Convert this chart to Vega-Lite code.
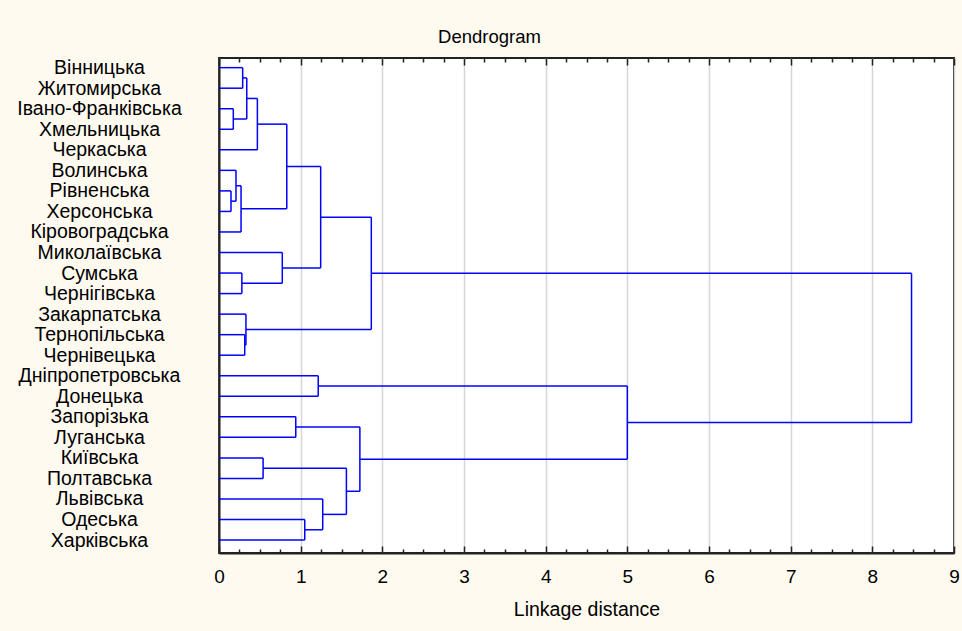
{
  "$schema": "https://vega.github.io/schema/vega-lite/v6.json",
  "width": 735,
  "height": 495,
  "autosize": {"type": "none"},
  "padding": {"left": 219, "top": 58, "right": 8, "bottom": 78},
  "background": "#fffaf0",
  "config": {
    "view": {"stroke": "#222222", "strokeWidth": 2, "fill": "white"},
    "font": "Liberation Sans"
  },
  "title": {
    "text": "Dendrogram",
    "fontSize": 18.5,
    "fontWeight": "normal",
    "font": "Liberation Sans",
    "color": "black",
    "anchor": "middle",
    "dx": -97,
    "offset": 11
  },
  "datasets": {
    "seg": [
      {"x": 0, "x2": 0.29, "y": 0, "y2": 0},
      {"x": 0, "x2": 0.29, "y": 1, "y2": 1},
      {"x": 0.29, "x2": 0.29, "y": 0, "y2": 1},
      {"x": 0, "x2": 0.175, "y": 2, "y2": 2},
      {"x": 0, "x2": 0.175, "y": 3, "y2": 3},
      {"x": 0.175, "x2": 0.175, "y": 2, "y2": 3},
      {"x": 0.29, "x2": 0.34, "y": 0.5, "y2": 0.5},
      {"x": 0.175, "x2": 0.34, "y": 2.5, "y2": 2.5},
      {"x": 0.34, "x2": 0.34, "y": 0.5, "y2": 2.5},
      {"x": 0.34, "x2": 0.47, "y": 1.5, "y2": 1.5},
      {"x": 0, "x2": 0.47, "y": 4, "y2": 4},
      {"x": 0.47, "x2": 0.47, "y": 1.5, "y2": 4},
      {"x": 0, "x2": 0.147, "y": 6, "y2": 6},
      {"x": 0, "x2": 0.147, "y": 7, "y2": 7},
      {"x": 0.147, "x2": 0.147, "y": 6, "y2": 7},
      {"x": 0, "x2": 0.208, "y": 5, "y2": 5},
      {"x": 0.147, "x2": 0.208, "y": 6.5, "y2": 6.5},
      {"x": 0.208, "x2": 0.208, "y": 5, "y2": 6.5},
      {"x": 0.208, "x2": 0.27, "y": 5.75, "y2": 5.75},
      {"x": 0, "x2": 0.27, "y": 8, "y2": 8},
      {"x": 0.27, "x2": 0.27, "y": 5.75, "y2": 8},
      {"x": 0.47, "x2": 0.83, "y": 2.75, "y2": 2.75},
      {"x": 0.27, "x2": 0.83, "y": 6.875, "y2": 6.875},
      {"x": 0.83, "x2": 0.83, "y": 2.75, "y2": 6.875},
      {"x": 0, "x2": 0.28, "y": 10, "y2": 10},
      {"x": 0, "x2": 0.28, "y": 11, "y2": 11},
      {"x": 0.28, "x2": 0.28, "y": 10, "y2": 11},
      {"x": 0, "x2": 0.775, "y": 9, "y2": 9},
      {"x": 0.28, "x2": 0.775, "y": 10.5, "y2": 10.5},
      {"x": 0.775, "x2": 0.775, "y": 9, "y2": 10.5},
      {"x": 0.83, "x2": 1.245, "y": 4.8125, "y2": 4.8125},
      {"x": 0.775, "x2": 1.245, "y": 9.75, "y2": 9.75},
      {"x": 1.245, "x2": 1.245, "y": 4.8125, "y2": 9.75},
      {"x": 0, "x2": 0.315, "y": 13, "y2": 13},
      {"x": 0, "x2": 0.315, "y": 14, "y2": 14},
      {"x": 0.315, "x2": 0.315, "y": 13, "y2": 14},
      {"x": 0, "x2": 0.33, "y": 12, "y2": 12},
      {"x": 0.315, "x2": 0.33, "y": 13.5, "y2": 13.5},
      {"x": 0.33, "x2": 0.33, "y": 12, "y2": 13.5},
      {"x": 1.245, "x2": 1.865, "y": 7.28125, "y2": 7.28125},
      {"x": 0.33, "x2": 1.865, "y": 12.75, "y2": 12.75},
      {"x": 1.865, "x2": 1.865, "y": 7.28125, "y2": 12.75},
      {"x": 0, "x2": 1.215, "y": 15, "y2": 15},
      {"x": 0, "x2": 1.215, "y": 16, "y2": 16},
      {"x": 1.215, "x2": 1.215, "y": 15, "y2": 16},
      {"x": 0, "x2": 0.94, "y": 17, "y2": 17},
      {"x": 0, "x2": 0.94, "y": 18, "y2": 18},
      {"x": 0.94, "x2": 0.94, "y": 17, "y2": 18},
      {"x": 0, "x2": 0.54, "y": 19, "y2": 19},
      {"x": 0, "x2": 0.54, "y": 20, "y2": 20},
      {"x": 0.54, "x2": 0.54, "y": 19, "y2": 20},
      {"x": 0, "x2": 1.05, "y": 22, "y2": 22},
      {"x": 0, "x2": 1.05, "y": 23, "y2": 23},
      {"x": 1.05, "x2": 1.05, "y": 22, "y2": 23},
      {"x": 0, "x2": 1.27, "y": 21, "y2": 21},
      {"x": 1.05, "x2": 1.27, "y": 22.5, "y2": 22.5},
      {"x": 1.27, "x2": 1.27, "y": 21, "y2": 22.5},
      {"x": 0.54, "x2": 1.56, "y": 19.5, "y2": 19.5},
      {"x": 1.27, "x2": 1.56, "y": 21.75, "y2": 21.75},
      {"x": 1.56, "x2": 1.56, "y": 19.5, "y2": 21.75},
      {"x": 0.94, "x2": 1.725, "y": 17.5, "y2": 17.5},
      {"x": 1.56, "x2": 1.725, "y": 20.625, "y2": 20.625},
      {"x": 1.725, "x2": 1.725, "y": 17.5, "y2": 20.625},
      {"x": 1.215, "x2": 5.0, "y": 15.5, "y2": 15.5},
      {"x": 1.725, "x2": 5.0, "y": 19.0625, "y2": 19.0625},
      {"x": 5.0, "x2": 5.0, "y": 15.5, "y2": 19.0625},
      {"x": 1.865, "x2": 8.48, "y": 10.015625, "y2": 10.015625},
      {"x": 5.0, "x2": 8.48, "y": 17.28125, "y2": 17.28125},
      {"x": 8.48, "x2": 8.48, "y": 10.015625, "y2": 17.28125}
    ]
  },
  "resolve": {"axis": {"x": "independent"}},
  "layer": [
    {
      "data": {"name": "seg"},
      "mark": {"type": "rule", "color": "#0000ff", "strokeWidth": 1.5},
      "encoding": {
        "x": {
          "field": "x",
          "type": "quantitative",
          "scale": {"domain": [0, 9], "nice": false, "zero": false},
          "axis": {
            "orient": "bottom",
            "values": [0, 1, 2, 3, 4, 5, 6, 7, 8, 9],
            "grid": true,
            "gridColor": "#d6d6d6",
            "gridWidth": 1.5,
            "ticks": false,
            "domain": true,
            "domainColor": "#222222",
            "domainWidth": 2,
            "labelPadding": 14,
            "labelFontSize": 19,
            "labelFont": "Liberation Sans",
            "labelColor": "black",
            "labelFlush": false,
            "title": "Linkage distance",
            "titleFontSize": 19.5,
            "titleFont": "Liberation Sans",
            "titleFontWeight": "normal",
            "titleColor": "black",
            "titlePadding": 14
          }
        },
        "x2": {"field": "x2"},
        "y": {
          "field": "y",
          "type": "quantitative",
          "scale": {"domain": [-0.47, 23.63], "nice": false, "zero": false, "reverse": true},
          "axis": {
            "orient": "left",
            "values": [0, 1, 2, 3, 4, 5, 6, 7, 8, 9, 10, 11, 12, 13, 14, 15, 16, 17, 18, 19, 20, 21, 22, 23],
            "labelExpr": "['Вінницька','Житомирська','Івано-Франківська','Хмельницька','Черкаська','Волинська','Рівненська','Херсонська','Кіровоградська','Миколаївська','Сумська','Чернігівська','Закарпатська','Тернопільська','Чернівецька','Дніпропетровська','Донецька','Запорізька','Луганська','Київська','Полтавська','Львівська','Одеська','Харківська'][datum.value]",
            "ticks": false,
            "grid": false,
            "domain": true,
            "domainColor": "#222222",
            "domainWidth": 2,
            "labelAlign": "center",
            "labelBaseline": "middle",
            "labelPadding": 120,
            "labelFontSize": 19.5,
            "labelFont": "Liberation Sans",
            "labelColor": "black",
            "labelOverlap": false,
            "labelFlush": false,
            "title": null
          }
        },
        "y2": {"field": "y2"}
      }
    },
    {
      "data": {"name": "seg"},
      "mark": {"type": "rule", "opacity": 0},
      "encoding": {
        "x": {
          "field": "x",
          "type": "quantitative",
          "axis": {
            "orient": "bottom",
            "values": [0, 1, 2, 3, 4, 5, 6, 7, 8, 9],
            "tickSize": -7,
            "tickColor": "#222222",
            "tickWidth": 1.5,
            "labels": false,
            "domain": false,
            "grid": false,
            "title": null
          }
        }
      }
    },
    {
      "data": {"name": "seg"},
      "mark": {"type": "rule", "opacity": 0},
      "encoding": {
        "x": {
          "field": "x",
          "type": "quantitative",
          "axis": {
            "orient": "bottom",
            "values": [0.25, 0.5, 0.75, 1.25, 1.5, 1.75, 2.25, 2.5, 2.75, 3.25, 3.5, 3.75, 4.25, 4.5, 4.75, 5.25, 5.5, 5.75, 6.25, 6.5, 6.75, 7.25, 7.5, 7.75, 8.25, 8.5, 8.75],
            "tickSize": -4,
            "tickColor": "#222222",
            "tickWidth": 1.5,
            "labels": false,
            "domain": false,
            "grid": false,
            "title": null
          }
        }
      }
    },
    {
      "data": {"name": "seg"},
      "mark": {"type": "rule", "opacity": 0},
      "encoding": {
        "x": {
          "field": "x",
          "type": "quantitative",
          "axis": {
            "orient": "top",
            "values": [0, 1, 2, 3, 4, 5, 6, 7, 8, 9],
            "tickSize": -7,
            "tickColor": "#222222",
            "tickWidth": 1.5,
            "labels": false,
            "domain": false,
            "grid": false,
            "title": null
          }
        }
      }
    },
    {
      "data": {"name": "seg"},
      "mark": {"type": "rule", "opacity": 0},
      "encoding": {
        "x": {
          "field": "x",
          "type": "quantitative",
          "axis": {
            "orient": "top",
            "values": [0.25, 0.5, 0.75, 1.25, 1.5, 1.75, 2.25, 2.5, 2.75, 3.25, 3.5, 3.75, 4.25, 4.5, 4.75, 5.25, 5.5, 5.75, 6.25, 6.5, 6.75, 7.25, 7.5, 7.75, 8.25, 8.5, 8.75],
            "tickSize": -4,
            "tickColor": "#222222",
            "tickWidth": 1.5,
            "labels": false,
            "domain": false,
            "grid": false,
            "title": null
          }
        }
      }
    }
  ]
}
